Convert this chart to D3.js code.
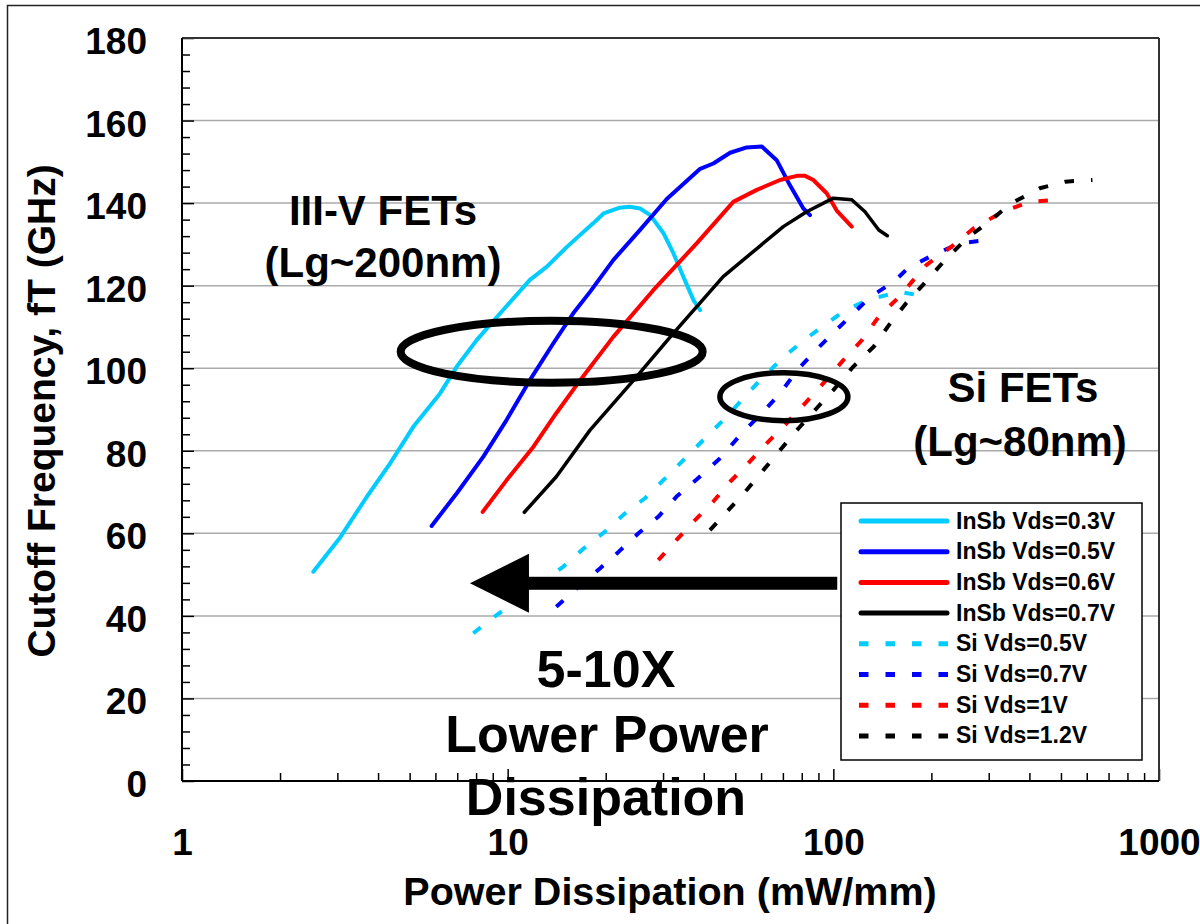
<!DOCTYPE html>
<html>
<head>
<meta charset="utf-8">
<script src="https://cdn.jsdelivr.net/npm/d3@7"></script>
<style>
  html, body { margin: 0; padding: 0; background: #fff; }
  svg { display: block; }
  text { font-family: "Liberation Sans", Arial, Helvetica, sans-serif; font-weight: bold; fill: #000; }
</style>
</head>
<body>
<svg id="chart" width="1200" height="924"></svg>
<script>
// ---- Data: [power dissipation (mW/mm), cutoff frequency fT (GHz)] ----
const insb03 = [[2.53,50.7],[3.06,59.0],[3.69,68.8],[4.35,76.9],[5.13,85.8],[6.20,93.9],[6.98,100.4],[8.03,106.8],[9.68,114.1],[11.7,121.4],[13.2,124.6],[15.2,129.4],[18.3,135.1],[19.7,137.5],[22.1,138.9],[23.7,139.1],[25.5,138.7],[27.4,137.1],[30.1,132.7],[32.3,127.8],[34.6,122.2],[37.2,116.5],[39.0,114.1]];
const insb05 = [[5.84,61.8],[6.98,69.7],[8.42,78.6],[9.93,87.5],[11.7,97.1],[13.8,106.0],[15.9,113.3],[17.9,118.5],[21.1,126.2],[25.5,133.5],[30.8,141.0],[39.0,148.3],[42.8,149.6],[48.2,152.2],[54.2,153.5],[60.3,153.7],[67.0,150.4],[73.6,144.3],[80.9,138.7],[84.8,137.1]];
const insb06 = [[8.38,65.2],[9.93,72.9],[12.0,81.0],[14.1,89.1],[16.7,97.1],[21.1,107.6],[28.0,118.9],[38.1,130.3],[49.3,140.3],[58.2,143.2],[68.6,145.6],[77.2,146.6],[81.9,146.6],[86.8,145.6],[95.4,142.4],[102.4,138.2],[113.9,134.3]];
const insb07 = [[11.25,65.1],[14.1,73.7],[17.9,85.0],[24.3,97.0],[32.3,108.5],[45.9,122.2],[59.5,129.6],[70.2,134.3],[82.8,137.9],[100,141.2],[113.9,140.8],[125.1,137.9],[137.9,133.5],[146.5,132.1]];
const si05 = [[7.84,35.8],[9.25,40.2],[14.8,51.9],[17.1,56.3],[19.9,60.4],[22.9,64.8],[26.4,68.5],[30.8,73.7],[35.5,78.6],[40.8,83.4],[47.0,88.2],[52.9,92.7],[59.6,97.1],[70.5,102.8],[81.4,106.8],[94.0,110.5],[107.2,113.7],[126.8,116.5],[159.3,118.5],[195.3,117.3]];
const si07 = [[14.1,42.2],[16.3,46.7],[19.2,51.5],[21.9,55.5],[25.2,60.0],[29.0,64.0],[33.0,68.9],[38.1,73.1],[44.4,77.8],[52.3,84.2],[60.3,89.1],[68.6,93.9],[77.6,99.6],[88.5,104.4],[99.8,108.5],[113.9,112.9],[129.9,117.3],[153.7,121.0],[169.1,124.2],[202.3,127.4],[245.2,130.3],[301.2,131.1]];
const si10 = [[29.0,53.5],[33.0,58.4],[37.6,63.2],[42.8,67.7],[48.2,72.5],[54.8,77.0],[62.4,81.8],[71.0,86.2],[81.9,91.5],[95.1,97.1],[108.5,102.4],[122.4,106.8],[137.9,112.5],[159.3,117.3],[192.9,125.0],[233.7,129.8],[269.8,133.9],[330.7,137.9],[400.7,140.3],[485.5,140.8]];
const si12 = [[41.8,60.8],[47.6,65.6],[54.2,70.5],[61.7,75.8],[69.4,80.6],[78.1,85.4],[88.9,90.3],[100,94.7],[115.2,100.4],[133.0,105.2],[148.3,110.5],[167.1,115.7],[190.6,120.6],[220.1,126.2],[257.3,131.5],[300.6,135.5],[351.2,139.9],[430.5,143.6],[515.7,145.2],[624.6,145.6]];

const seriesNames = ["InSb Vds=0.3V","InSb Vds=0.5V","InSb Vds=0.6V","InSb Vds=0.7V","Si Vds=0.5V","Si Vds=0.7V","Si Vds=1V","Si Vds=1.2V"];
const seriesData  = [insb03, insb05, insb06, insb07, si05, si07, si10, si12];
const seriesColor = ["#00CCFF","#0000FF","#FF0000","#000000","#00CCFF","#0000FF","#FF0000","#000000"];
const seriesDashed = [false,false,false,false,true,true,true,true];

const xTickValues = [1, 10, 100, 1000];
const yTickValues = [0, 20, 40, 60, 80, 100, 120, 140, 160, 180];

// ---- Layout ----
const svg = d3.select("#chart");
const plot = { left: 182, right: 1159, top: 38, bottom: 781 };

const x = d3.scaleLog().domain([1, 1000]).range([plot.left, plot.right]);
const y = d3.scaleLinear().domain([0, 180]).range([plot.bottom, plot.top]);

// outer frame of the figure
svg.append("rect")
  .attr("x", 7.5).attr("y", 5.5).attr("width", 1200).attr("height", 930)
  .attr("fill", "none").attr("stroke", "#222").attr("stroke-width", 1.5);

// horizontal gridlines
svg.append("g").selectAll("line")
  .data(yTickValues.filter(v => v > 0 && v < 180))
  .join("line")
  .attr("x1", plot.left).attr("x2", plot.right)
  .attr("y1", d => y(d)).attr("y2", d => y(d))
  .attr("stroke", "#aaaaaa").attr("stroke-width", 1.5);

// ---- Axes ----
const tickFont = g => g.selectAll("text").style("font-size", "37px").style("font-weight", "bold")
  .style("font-family", '"Liberation Sans", Arial, sans-serif').attr("fill", "#000");
const tickStroke = g => g.selectAll("line").attr("stroke", "#000").attr("stroke-width", 1.5);

const yMinor = d3.range(0, 181, 4).filter(v => v % 20 !== 0);
svg.append("g").attr("transform", `translate(${plot.left},0)`)
  .call(d3.axisLeft(y).tickValues(yMinor).tickSize(-8).tickFormat(""))
  .call(g => g.select(".domain").remove()).call(tickStroke);
svg.append("g").attr("transform", `translate(${plot.left},0)`)
  .call(d3.axisLeft(y).tickValues(yTickValues).tickSize(-12).tickPadding(35).tickFormat(d3.format("d")))
  .call(g => g.select(".domain").remove()).call(tickStroke).call(tickFont)
  .call(g => g.selectAll("text").attr("dy", "0.42em"));

const xMinor = [];
[1, 10, 100].forEach(d => { for (let k = 2; k <= 9; k++) xMinor.push(d * k); });
svg.append("g").attr("transform", `translate(0,${plot.bottom})`)
  .call(d3.axisBottom(x).tickValues(xMinor).tickSize(-8).tickFormat(""))
  .call(g => g.select(".domain").remove()).call(tickStroke);
svg.append("g").attr("transform", `translate(0,${plot.bottom})`)
  .call(d3.axisBottom(x).tickValues(xTickValues).tickSize(-12).tickPadding(48).tickFormat(d3.format("d")))
  .call(g => g.select(".domain").remove()).call(tickStroke).call(tickFont);

// plot frame
svg.append("line").attr("x1", plot.left).attr("x2", plot.right).attr("y1", plot.top).attr("y2", plot.top)
  .attr("stroke", "#333").attr("stroke-width", 2);
svg.append("line").attr("x1", plot.right).attr("x2", plot.right).attr("y1", plot.top).attr("y2", plot.bottom)
  .attr("stroke", "#333").attr("stroke-width", 2);

// ---- Series ----
const line = d3.line().x(d => x(d[0])).y(d => y(d[1]));
const dash = "9.5,17";
const linesG = svg.append("g");
seriesData.forEach((data, i) => {
  linesG.append("path")
    .datum(data)
    .attr("d", line)
    .attr("fill", "none")
    .attr("stroke", seriesColor[i])
    .attr("stroke-width", i === 3 ? 3.5 : 4)
    .attr("stroke-linecap", seriesDashed[i] ? "butt" : "round")
    .attr("stroke-linejoin", "round")
    .attr("stroke-dasharray", seriesDashed[i] ? dash : null);
});

// left & bottom axis lines
svg.append("line").attr("x1", plot.left).attr("x2", plot.left).attr("y1", plot.top).attr("y2", plot.bottom)
  .attr("stroke", "#000").attr("stroke-width", 2);
svg.append("line").attr("x1", plot.left).attr("x2", plot.right).attr("y1", plot.bottom).attr("y2", plot.bottom)
  .attr("stroke", "#000").attr("stroke-width", 2);

// ---- Annotations ----
// group outlines
svg.append("ellipse")
  .attr("cx", x(13.65)).attr("cy", y(104)).attr("rx", 151).attr("ry", 31)
  .attr("fill", "none").attr("stroke", "#000").attr("stroke-width", 8);
svg.append("ellipse")
  .attr("cx", x(70.5)).attr("cy", y(93.1)).attr("rx", 64).attr("ry", 24)
  .attr("fill", "none").attr("stroke", "#000").attr("stroke-width", 5.5);

// arrow toward lower power
const arrowY = y(47.9), arrowTip = x(7.66), arrowTail = x(102.8);
svg.append("rect")
  .attr("x", arrowTip + 55).attr("y", arrowY - 6.5)
  .attr("width", arrowTail - arrowTip - 55).attr("height", 13).attr("fill", "#000");
svg.append("path")
  .attr("d", `M${arrowTip},${arrowY} L${arrowTip + 59},${arrowY - 29.5} L${arrowTip + 59},${arrowY + 29.5} Z`)
  .attr("fill", "#000");

const note = (txt, cx, by, size) => svg.append("text")
  .attr("x", cx).attr("y", by).attr("text-anchor", "middle")
  .style("font-size", size + "px").text(txt);
note("III-V FETs", 383, 225, 42);
note("(Lg~200nm)", 383, 277, 42);
note("Si FETs", 1023, 402, 42);
note("(Lg~80nm)", 1020, 456, 42);
note("5-10X", 606, 687, 52);
note("Lower Power", 607, 752, 52);
note("Dissipation", 606, 815, 52);

// axis titles
svg.append("text")
  .attr("transform", "translate(55,411) rotate(-90)")
  .attr("text-anchor", "middle").style("font-size", "39px")
  .text("Cutoff Frequency, fT (GHz)");
svg.append("text")
  .attr("x", 670).attr("y", 905).attr("text-anchor", "middle").style("font-size", "39.5px")
  .text("Power Dissipation (mW/mm)");

// ---- Legend ----
const legend = svg.append("g");
legend.append("rect")
  .attr("x", 841).attr("y", 503).attr("width", 301).attr("height", 257)
  .attr("fill", "#fff").attr("stroke", "#000").attr("stroke-width", 1.5);
const rowY = i => 521 + i * 30.7;
seriesNames.forEach((name, i) => {
  legend.append("line")
    .attr("x1", seriesDashed[i] ? 859 : 861).attr("x2", seriesDashed[i] ? 949 : 947)
    .attr("y1", rowY(i)).attr("y2", rowY(i))
    .attr("stroke", seriesColor[i]).attr("stroke-width", 5)
    .attr("stroke-linecap", seriesDashed[i] ? "butt" : "round")
    .attr("stroke-dasharray", seriesDashed[i] ? dash : null);
  legend.append("text")
    .attr("x", 956).attr("y", rowY(i) + 7.5)
    .style("font-size", "23px")
    .text(name);
});
</script>
</body>
</html>
